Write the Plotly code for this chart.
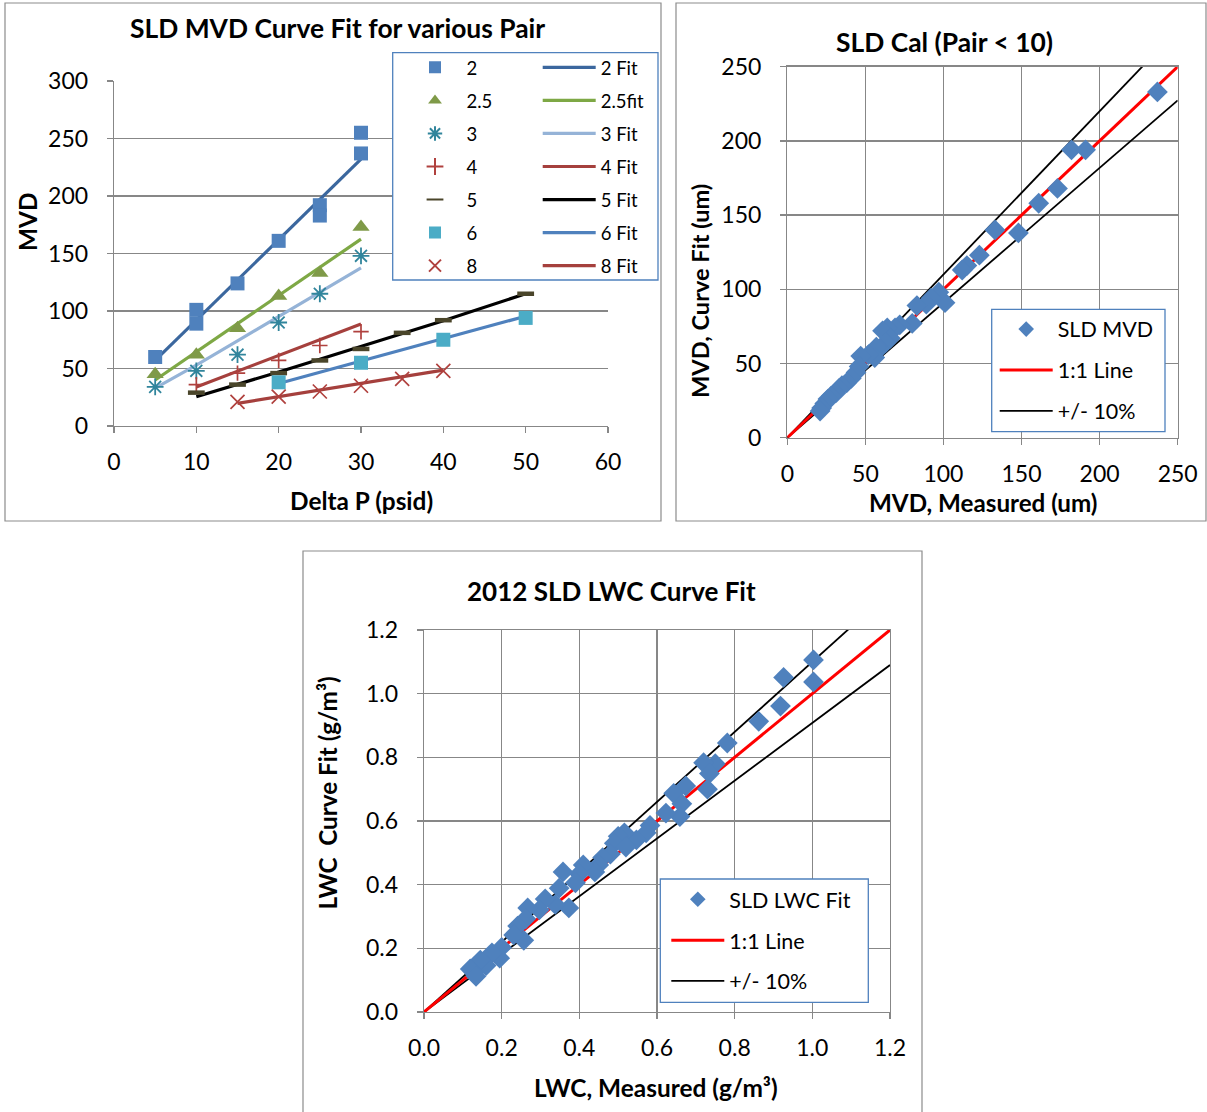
import plotly.graph_objects as go

W, H = 1207, 1112
FONT = "Lato"
GRID = "#878787"

# ---------------- Chart 1 data: SLD MVD Curve Fit for various Pair ----------------
p2_x = [5, 10, 10, 15, 20, 25, 25, 30, 30]
p2_y = [60, 101, 89, 124, 161, 192, 183, 255, 237]
p2_fit_x = [5, 10, 15, 20, 25, 30]
p2_fit_y = [57, 92, 127, 162, 197, 232]

p25_x = [5, 10, 15, 20, 25, 30]
p25_y = [45, 62, 85, 113, 133, 173]
p25_fit_x = [5, 10, 15, 20, 25, 30]
p25_fit_y = [40, 64.5, 89, 113.5, 138, 162.5]

p3_x = [5, 10, 15, 20, 25, 30]
p3_y = [34, 48, 62, 90, 115, 148]
p3_fit_x = [5, 10, 15, 20, 25, 30]
p3_fit_y = [33, 53, 74, 95, 116, 137.5]

p4_x = [10, 15, 20, 25, 30]
p4_y = [36, 46, 57, 70, 82]
p4_fit_x = [10, 15, 20, 25, 30]
p4_fit_y = [34, 47.6, 61.3, 75, 88.6]

p5_x = [10, 15, 20, 25, 30, 35, 40, 50]
p5_y = [29, 36, 46, 57, 67, 81, 92, 115]
p5_fit_x = [10, 15, 20, 25, 30, 35, 40, 50]
p5_fit_y = [25.5, 36, 47, 58, 69, 80, 91.5, 115]

p6_x = [20, 30, 40, 50]
p6_y = [38, 55, 75, 94]
p6_fit_x = [20, 30, 40, 50]
p6_fit_y = [37, 56.5, 76, 95.5]

p8_x = [15, 20, 25, 30, 35, 40]
p8_y = [21, 25.5, 30, 35, 41, 48]
p8_fit_x = [15, 20, 25, 30, 35, 40]
p8_fit_y = [19.7, 25.5, 31.2, 37, 42.8, 48.6]

# ---------------- Chart 2 data: SLD Cal (Pair < 10) ----------------
mvd_measured = [237, 182, 191, 173, 161, 148, 133, 123, 115, 112, 101, 97, 92, 89,
                83, 80, 72, 69, 64, 61, 66, 63, 59, 57, 56, 52, 47, 46, 44, 41,
                38, 35, 33, 31, 28, 26, 24, 22, 21]
mvd_curvefit = [233, 194, 194, 168, 158, 138, 140, 123, 116, 113, 91, 98, 94, 90,
                89, 77, 76, 74, 74, 72, 67, 64, 60, 61, 54, 56, 55, 48, 44, 40,
                37, 35, 33, 30, 28, 26, 23, 20, 18]
mvd_line_x = [0, 250]
mvd_one = [0, 250]
mvd_plus = [0, 275]
mvd_minus = [0, 227.3]

# ---------------- Chart 3 data: 2012 SLD LWC Curve Fit ----------------
lwc_measured = [1.003, 1.003, 0.926, 0.918, 0.862, 0.781, 0.750, 0.720, 0.735, 0.730,
                0.674, 0.643, 0.664, 0.659, 0.623, 0.582, 0.572, 0.547, 0.516, 0.500,
                0.490, 0.520, 0.480, 0.460, 0.450, 0.440, 0.410, 0.400, 0.390, 0.358,
                0.348, 0.373, 0.338, 0.312, 0.297, 0.267, 0.262, 0.241, 0.257, 0.231,
                0.200, 0.195, 0.175, 0.160, 0.145, 0.129, 0.119, 0.134]
lwc_curvefit = [1.106, 1.037, 1.051, 0.961, 0.913, 0.845, 0.780, 0.783, 0.749, 0.700,
                0.710, 0.687, 0.654, 0.614, 0.625, 0.586, 0.563, 0.541, 0.563, 0.552,
                0.530, 0.518, 0.496, 0.485, 0.462, 0.440, 0.462, 0.434, 0.406, 0.440,
                0.389, 0.327, 0.338, 0.355, 0.321, 0.327, 0.293, 0.270, 0.225, 0.242,
                0.203, 0.169, 0.186, 0.146, 0.163, 0.124, 0.135, 0.112]
lwc_line_x = [0, 1.2]
lwc_one = [0, 1.2]
lwc_plus = [0, 1.32]
lwc_minus = [0, 1.09]


def px(x):
    return x / W


def py(y):
    return 1 - y / H


fig = go.Figure()

# ---- chart 1 traces ----
series1 = [
    ("2", p2_x, p2_y, dict(symbol="square", size=14, color="#4F81BD"),
     "2 Fit", p2_fit_x, p2_fit_y, "#3B679E"),
    ("2.5", p25_x, p25_y, dict(symbol="triangle-up", size=15, color="#7F9A48"),
     "2.5fit", p25_fit_x, p25_fit_y, "#7EA845"),
    ("3", p3_x, p3_y, dict(symbol="asterisk-open", size=14, color="#31859C", line=dict(width=1.8, color="#31859C")),
     "3 Fit", p3_fit_x, p3_fit_y, "#95B3D7"),
    ("4", p4_x, p4_y, dict(symbol="cross-thin-open", size=11, color="#B0413E", line=dict(width=1.7, color="#B0413E")),
     "4 Fit", p4_fit_x, p4_fit_y, "#A5403D"),
    ("5", p5_x, p5_y, dict(symbol="line-ew-open", size=12, color="#4A452A", line=dict(width=4.5, color="#4A452A")),
     "5 Fit", p5_fit_x, p5_fit_y, "#000000"),
    ("6", p6_x, p6_y, dict(symbol="square", size=14, color="#4BACC6"),
     "6 Fit", p6_fit_x, p6_fit_y, "#4F81BD"),
    ("8", p8_x, p8_y, dict(symbol="x-thin-open", size=14, color="#B0413E", line=dict(width=1.7, color="#B0413E")),
     "8 Fit", p8_fit_x, p8_fit_y, "#A5403D"),
]

for i, (nm, xs, ys, mk, fnm, fx, fy, fcol) in enumerate(series1):
    fig.add_trace(go.Scatter(x=fx, y=fy, mode="lines", name=fnm,
                             line=dict(color=fcol, width=3.2),
                             xaxis="x", yaxis="y", legend="legend2",
                             legendgroup="f" + nm, legendrank=i + 1))
for i, (nm, xs, ys, mk, fnm, fx, fy, fcol) in enumerate(series1):
    fig.add_trace(go.Scatter(x=xs, y=ys, mode="markers", name=nm, marker=mk,
                             xaxis="x", yaxis="y", legend="legend",
                             legendgroup="m" + nm, legendrank=i + 1))


def ratio_chart(xa, ya, leg, pref, lx, l_one, l_plus, l_minus, mx, my, pname):
    fig.add_trace(go.Scatter(x=lx, y=l_plus, mode="lines", name="+/- 10%",
                             line=dict(color="black", width=1.8), xaxis=xa, yaxis=ya,
                             legend=leg, legendgroup=pref + "pm", legendrank=3))
    fig.add_trace(go.Scatter(x=lx, y=l_minus, mode="lines", name="+/- 10%",
                             line=dict(color="black", width=1.8), xaxis=xa, yaxis=ya,
                             legend=leg, legendgroup=pref + "pm2", showlegend=False))
    fig.add_trace(go.Scatter(x=lx, y=l_one, mode="lines", name="1:1 Line",
                             line=dict(color="#FF0000", width=3), xaxis=xa, yaxis=ya,
                             legend=leg, legendgroup=pref + "one", legendrank=2))
    fig.add_trace(go.Scatter(x=mx, y=my, mode="markers", name=pname,
                             marker=dict(symbol="diamond", size=16, color="#4F81BD"),
                             xaxis=xa, yaxis=ya, legend=leg, showlegend=False,
                             legendgroup=pref + "pts"))
    # legend key for the points (smaller symbol as in the legend of the original)
    fig.add_trace(go.Scatter(x=[None], y=[None], mode="markers", name=pname,
                             marker=dict(symbol="diamond", size=12, color="#4F81BD"),
                             xaxis=xa, yaxis=ya, legend=leg,
                             legendgroup=pref + "pts", legendrank=1))


ratio_chart("x2", "y2", "legend3", "c2", mvd_line_x, mvd_one, mvd_plus, mvd_minus,
            mvd_measured, mvd_curvefit, "SLD MVD")
ratio_chart("x3", "y3", "legend4", "c3", lwc_line_x, lwc_one, lwc_plus, lwc_minus,
            lwc_measured, lwc_curvefit, "SLD LWC Fit")

tickfont = dict(family=FONT, size=23, color="black")


def axis(domain, rng, dtick, anchor, grid, mirror=False, fmt=None, standoff=14):
    d = dict(domain=domain, range=rng, dtick=dtick, tick0=0, anchor=anchor,
             showgrid=grid, gridcolor=GRID, gridwidth=1.3, zeroline=False,
             showline=True, linecolor=GRID, linewidth=1.3, mirror=mirror,
             ticks="outside", ticklen=6, tickwidth=1.3, tickcolor=GRID,
             tickfont=tickfont, ticklabelstandoff=standoff, fixedrange=True,
             automargin=False)
    if fmt:
        d["tickformat"] = fmt
    return d


legend_common = dict(xanchor="left", yanchor="top", bgcolor="rgba(0,0,0,0)",
                     borderwidth=0, itemwidth=53, traceorder="grouped",
                     itemclick=False, itemdoubleclick=False)

layout = dict(
    width=W, height=H, margin=dict(l=0, r=0, t=0, b=0, pad=0, autoexpand=False),
    paper_bgcolor="white", plot_bgcolor="white",
    font=dict(family=FONT, color="black"),
    xaxis=axis([px(114), px(608)], [0, 60], 10, "y", False, standoff=9),
    yaxis=axis([py(426), py(81)], [0, 300], 50, "x", True),
    xaxis2=axis([px(787.3), px(1177.7)], [0, 250], 50, "y2", True, True, standoff=9),
    yaxis2=axis([py(437.7), py(66.7)], [0, 250], 50, "x2", True, True),
    xaxis3=axis([px(424), px(890)], [0, 1.2], 0.2, "y3", True, True, ".1f", standoff=9),
    yaxis3=axis([py(1012), py(630)], [0, 1.2], 0.2, "x3", True, True, ".1f"),
    legend=dict(legend_common, x=px(403.5), y=py(48.8), tracegroupgap=6.0,
                itemsizing="constant", font=dict(family=FONT, size=18.5, color="black")),
    legend2=dict(legend_common, x=px(537.7), y=py(48.8), tracegroupgap=6.0,
                 font=dict(family=FONT, size=18.5, color="black")),
    legend3=dict(legend_common, x=px(994.7), y=py(308.6), tracegroupgap=9.9,
                 font=dict(family=FONT, size=21.5, color="black")),
    legend4=dict(legend_common, x=px(666.3), y=py(878.8), tracegroupgap=9.9,
                 font=dict(family=FONT, size=21.5, color="black")),
    showlegend=True,
)

shapes = []
# chart frames
for (x0, y0, x1, y1) in [(5, 3, 661, 521), (676, 3, 1206, 521), (303, 551, 922, 1114)]:
    shapes.append(dict(type="rect", xref="paper", yref="paper",
                       x0=px(x0), y0=py(y1), x1=px(x1), y1=py(y0),
                       line=dict(color="#8C8C8C", width=1.2), fillcolor="white",
                       layer="below"))
# legend boxes
for (x0, y0, x1, y1) in [(392.7, 52.7, 658, 280), (991.7, 309.3, 1165, 431.7),
                         (660.3, 879, 868.3, 1002.3)]:
    shapes.append(dict(type="rect", xref="paper", yref="paper",
                       x0=px(x0), y0=py(y1), x1=px(x1), y1=py(y0),
                       line=dict(color="#4F81BD", width=1.3), fillcolor="white",
                       layer="above"))
layout["shapes"] = shapes


def ann(text, x, y, size, angle=0):
    return dict(text="<b>" + text + "</b>", x=px(x), y=py(y), xref="paper", yref="paper",
                xanchor="center", yanchor="middle", showarrow=False, textangle=angle,
                font=dict(family=FONT, size=size, color="black"))


layout["annotations"] = [
    ann("SLD MVD Curve Fit for various Pair", 337, 28, 26.4),
    ann("Delta P (psid)", 361, 500, 24.4),
    ann("MVD", 28, 222, 24.4, -90),
    ann("SLD Cal (Pair &lt; 10)", 944.5, 42, 26.4),
    ann("MVD, Measured (um)", 982.5, 502, 24.2),
    ann("MVD, Curve Fit (um)", 700, 291, 23.6, -90),
    ann("2012 SLD LWC Curve Fit", 611.5, 591, 26),
    ann("LWC, Measured (g/m³)", 656, 1087, 24.4),
    ann("LWC\u00a0 Curve Fit (g/m³)", 327, 793.5, 24.2, -90),
]

fig.update_layout(**layout)

fig.write_html("out.html", config={"displayModeBar": False, "staticPlot": True},
               post_script="document.body.style.margin='0';")
